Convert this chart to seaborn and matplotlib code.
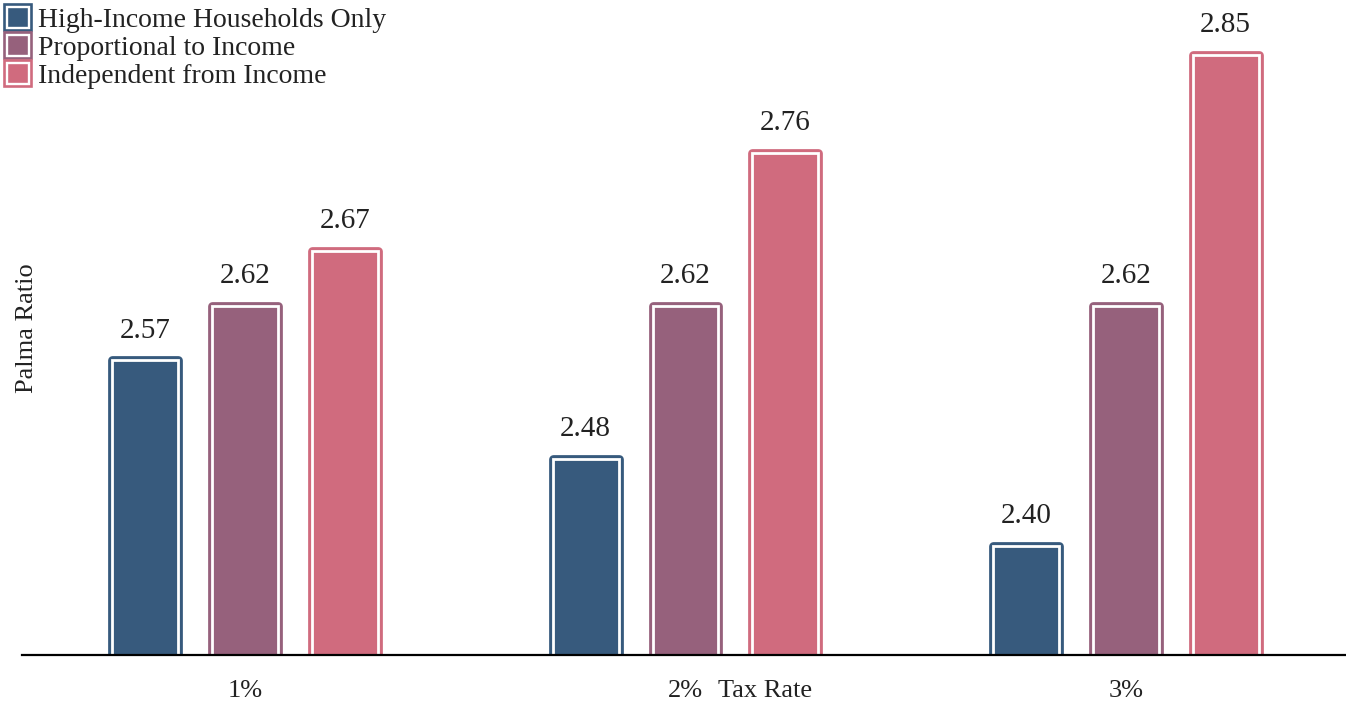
import matplotlib
matplotlib.use("Agg")
import matplotlib.pyplot as plt
from matplotlib.patches import Patch, Rectangle
from matplotlib.legend_handler import HandlerTuple
import seaborn as sns
import pandas as pd

categories = ["1%", "2%", "3%"]
series = ["High-Income Households Only", "Proportional to Income", "Independent from Income"]
high_income = [2.57, 2.48, 2.40]
proportional = [2.62, 2.62, 2.62]
independent = [2.67, 2.76, 2.85]
colors = ["#375a7d", "#96617c", "#d06b7e"]

rows = []
for s, vals in zip(series, [high_income, proportional, independent]):
    for c, v in zip(categories, vals):
        rows.append({"Tax Rate": c, "Scheme": s, "Palma": v})
df = pd.DataFrame(rows)

sns.set_theme(style="white")
plt.rcParams["font.family"] = ["Liberation Serif", "DejaVu Serif"]

fig = plt.figure(figsize=(13.46, 7.03), dpi=100)
ax = fig.add_axes([22 / 1346, 1 - 655 / 703, 1 - 22 / 1346, 655 / 703])

sns.barplot(data=df, x="Tax Rate", y="Palma", hue="Scheme", order=categories,
            hue_order=series, palette=colors, width=0.68, gap=0.34,
            saturation=1, ax=ax, legend=False)

for p in list(ax.patches):
    fc = p.get_facecolor()
    p.set_edgecolor(fc)
    p.set_linewidth(6.3)
    p.set_joinstyle("round")
    inner = Rectangle((p.get_x(), p.get_y()), p.get_width(), p.get_height(),
                      facecolor="none", edgecolor="white", linewidth=2.0,
                      zorder=p.get_zorder() + 0.1)
    ax.add_patch(inner)

for cont in ax.containers:
    ax.bar_label(cont, fmt="%.2f", padding=12, fontsize=21, color="#222222")

ax.set_ylim(2.3, 2.9)
ax.set_xlim(-0.507, 2.5)
ax.set_yticks([])
ax.set_ylabel("")
ax.set_xlabel("")
for side in ["top", "right", "left"]:
    ax.spines[side].set_visible(False)
ax.spines["bottom"].set_color("black")
ax.spines["bottom"].set_linewidth(1.6)
tick_pad = 18
tick_fs = 19
ax.tick_params(axis="x", length=0, labelsize=tick_fs, pad=tick_pad, colors="#222222")

ax.annotate("Tax Rate", xy=((718 - 22) / 1324, 0), xycoords="axes fraction",
            xytext=(0, -tick_pad), textcoords="offset points",
            ha="left", va="top", fontsize=tick_fs, color="#222222")
fig.text(27 / 1346, 1 - 328 / 703, "Palma Ratio", rotation=90, ha="center",
         va="center", fontsize=19, color="#222222")

handles = [(Patch(facecolor=c, edgecolor=c, linewidth=5.5, joinstyle="round"),
            Patch(facecolor="none", edgecolor="white", linewidth=1.7)) for c in colors]
leg = fig.legend(handles, series, loc="upper left",
                 bbox_to_anchor=(7 / 1346, 1 - 7 / 703),
                 frameon=False, fontsize=20, handlelength=0.78, handleheight=0.78,
                 handletextpad=0.32, labelspacing=0.07, borderaxespad=0, borderpad=0,
                 handler_map={tuple: HandlerTuple(ndivide=1, pad=0)})
for t in leg.get_texts():
    t.set_color("#222222")

fig.savefig("out.png", dpi=100)
